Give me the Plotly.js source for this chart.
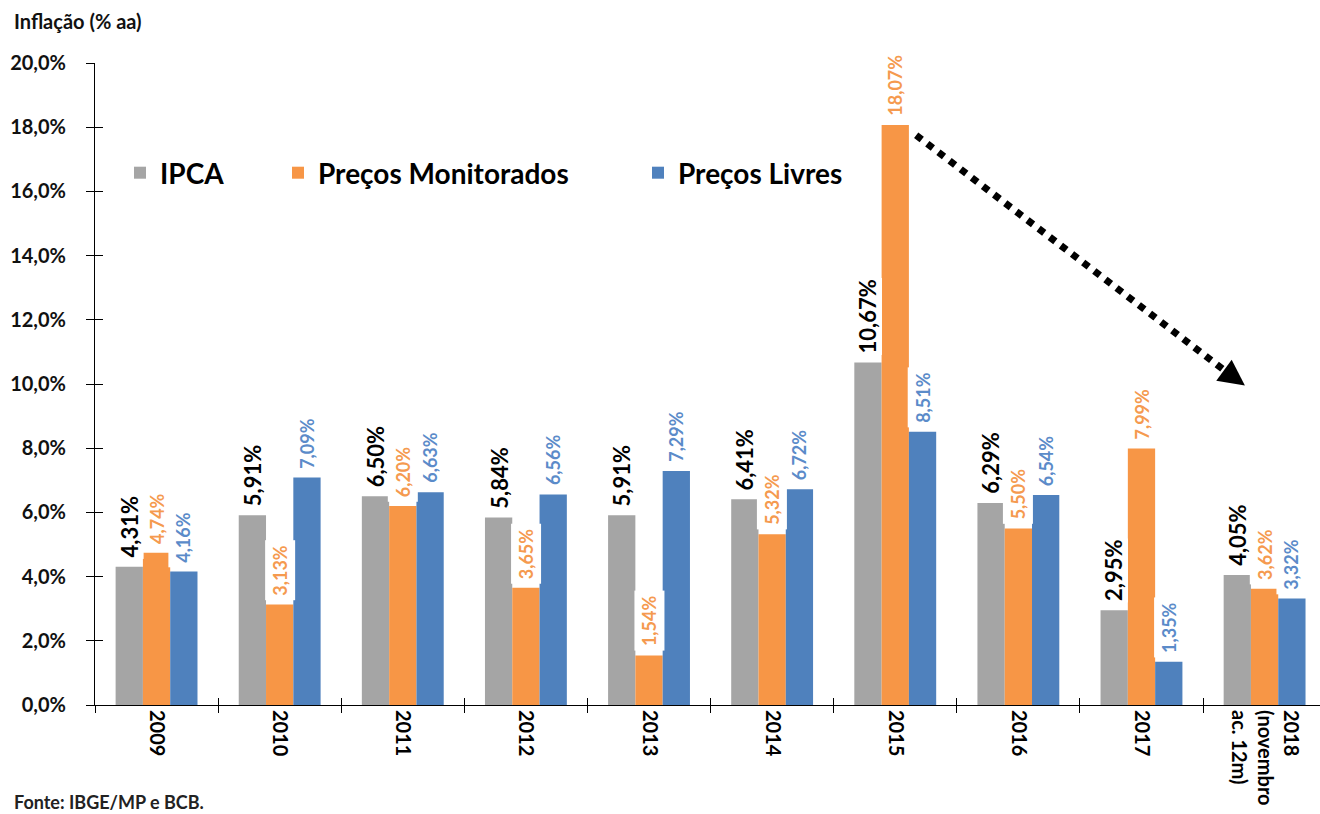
<!DOCTYPE html>
<html>
<head>
<meta charset="utf-8">
<script src="https://cdn.plot.ly/plotly-3.0.1.min.js"></script>
<style>html,body{margin:0;padding:0;background:#fff;}#chart{width:1320px;height:814px;}</style>
</head>
<body>
<div id="chart"></div>
<script>
// ---- data ----
const categories = ['2009','2010','2011','2012','2013','2014','2015','2016','2017','2018<br>(novembro<br>ac. 12m)'];
const ipca        = [4.31, 5.91, 6.50, 5.84, 5.91, 6.41, 10.67, 6.29, 2.95, 4.05];
const monitorados = [4.74, 3.13, 6.20, 3.65, 1.54, 5.32, 18.07, 5.50, 7.99, 3.62];
const livres      = [4.16, 7.09, 6.63, 6.56, 7.29, 6.72, 8.51, 6.54, 1.35, 3.32];
const seriesNames = ['IPCA', 'Preços Monitorados', 'Preços Livres'];
const yTickVals = [0, 2, 4, 6, 8, 10, 12, 14, 16, 18, 20];
const yTickText = ['0,0%','2,0%','4,0%','6,0%','8,0%','10,0%','12,0%','14,0%','16,0%','18,0%','20,0%'];

// ---- styles ----
const FONT = 'Lato, "Open Sans", sans-serif';
const barColors = ['#A5A5A5', '#F79646', '#4F81BD'];
const labelColors = ['#000000', '#F59A4F', '#5B8BC9'];
const labelSizes = [22, 18, 18];
const labelBoxH = [25, 21, 21];
const labelPad = [1, 4, 4];
const labelShift = [7, 4, 4];
const bargap = 0.335;
const xRange = [-0.5, 9.45];

const allSeries = [ipca, monitorados, livres];
const legendIds = ['legend', 'legend2', 'legend3'];

const traces = allSeries.map((vals, k) => ({
  type: 'bar',
  name: seriesNames[k],
  x: categories,
  y: vals,
  marker: {color: barColors[k]},
  legend: legendIds[k],
  hoverinfo: 'skip'
}));
// invisible helper trace for overlay (crossing) ticks
traces.push({type: 'scatter', mode: 'lines', x: categories, y: categories.map(() => null),
  xaxis: 'x2', yaxis: 'y2', showlegend: false, hoverinfo: 'skip'});

const barW = (1 - bargap) / 3;
const fmt = v => v.toFixed(2).replace('.', ',') + '%';

const annotations = [];
allSeries.forEach((vals, k) => {
  vals.forEach((v, i) => {
    annotations.push({
      x: i + (k - 1) * barW, y: v, xref: 'x', yref: 'y',
      text: fmt(v), showarrow: false, textangle: -90,
      xanchor: 'center', yanchor: 'bottom', yshift: labelShift[k],
      height: labelBoxH[k],
      bgcolor: '#ffffff', borderpad: labelPad[k],
      font: {family: FONT, size: labelSizes[k], color: labelColors[k], weight: 'bold'}
    });
  });
});
// arrow head
annotations.push({
  x: 8.84, y: 9.95, xref: 'x', yref: 'y', ax: -19, ay: -14,
  showarrow: true, arrowhead: 2, arrowsize: 1.3, arrowwidth: 4, arrowcolor: '#000', text: ''
});

const plotL = 95, plotT = 63, plotB = 705, W = 1320, H = 814;
const plotW = W - plotL, plotH = plotB - plotT;
// source note
annotations.push({
  x: (12 - plotL) / plotW, y: (plotB - 802) / plotH, xref: 'paper', yref: 'paper',
  text: 'Fonte: IBGE/MP e BCB.', showarrow: false,
  xanchor: 'left', yanchor: 'middle',
  font: {family: FONT, size: 18, color: '#222', weight: 'bold'}
});

const legendBase = {
  orientation: 'h', bgcolor: 'rgba(0,0,0,0)', borderwidth: 0,
  xanchor: 'left', yanchor: 'middle', itemwidth: 30,
  font: {family: FONT, size: 28, color: '#000', weight: 'bold'}
};
const legY = (plotB - 173) / plotH;

const layout = {
  width: W, height: H,
  margin: {l: plotL, r: 0, t: plotT, b: H - plotB, pad: 0},
  paper_bgcolor: '#fff', plot_bgcolor: '#fff',
  barmode: 'group', bargap: bargap, bargroupgap: 0,
  font: {family: FONT, color: '#000'},
  title: {
    text: 'Inflação (% aa)', xref: 'container', yref: 'container',
    x: 14 / W, xanchor: 'left', y: 1 - 22 / H, yanchor: 'middle',
    font: {family: FONT, size: 20, color: '#111', weight: 'bold'}
  },
  xaxis: {
    type: 'category', range: xRange, tickson: 'boundaries',
    ticks: 'outside', ticklen: 7, tickcolor: '#000', tickwidth: 1,
    showline: true, linecolor: '#000', linewidth: 1,
    showgrid: false, zeroline: false, tickangle: 90,
    tickfont: {family: FONT, size: 20, color: '#000', weight: 'bold'}
  },
  yaxis: {
    range: [0, 20], tickvals: yTickVals, ticktext: yTickText,
    ticks: 'outside', ticklen: 8, tickcolor: '#000', tickwidth: 1,
    ticklabelstandoff: 16,
    showline: true, linecolor: '#000', linewidth: 1,
    showgrid: false, zeroline: false,
    tickfont: {family: FONT, size: 20, color: '#111', weight: 'bold'}
  },
  xaxis2: {
    type: 'category', overlaying: 'x', anchor: 'y2', range: xRange, tickson: 'boundaries',
    ticks: 'inside', ticklen: 7, tickcolor: '#000', showticklabels: false,
    showline: false, showgrid: false, zeroline: false
  },
  yaxis2: {
    overlaying: 'y', anchor: 'x2', range: [0, 20], tickvals: yTickVals,
    ticks: 'inside', ticklen: 8, tickcolor: '#000', showticklabels: false,
    showline: false, showgrid: false, zeroline: false
  },
  legend:  Object.assign({}, legendBase, {x: (120 - plotL) / plotW, y: legY}),
  legend2: Object.assign({}, legendBase, {x: (278 - plotL) / plotW, y: legY}),
  legend3: Object.assign({}, legendBase, {x: (638 - plotL) / plotW, y: legY}),
  shapes: [{
    type: 'line', xref: 'x', yref: 'y', x0: 6.17, y0: 17.75, x1: 8.7, y1: 10.35,
    line: {color: '#000', width: 7, dash: 'dot'}
  }],
  annotations: annotations
};

Plotly.newPlot('chart', traces, layout, {displayModeBar: false, staticPlot: true});
</script>
</body>
</html>
